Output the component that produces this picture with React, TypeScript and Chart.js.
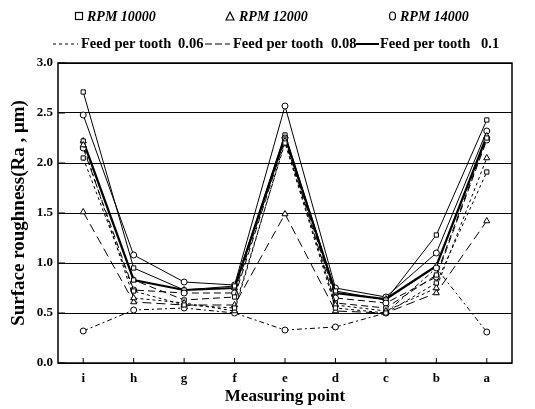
import React, { useEffect, useRef } from "react";
import { Chart, registerables } from "chart.js";

Chart.register(...registerables);

const categories = ["i", "h", "g", "f", "e", "d", "c", "b", "a"];
const yTicks = [0, 0.5, 1.0, 1.5, 2.0, 2.5, 3.0];

// Feed per tooth 0.1 (solid)
const rpm10000_f010 = [2.71, 0.95, 0.73, 0.77, 2.28, 0.72, 0.63, 1.28, 2.43];
const rpm12000_f010 = [2.22, 0.83, 0.73, 0.75, 2.27, 0.7, 0.64, 0.97, 2.27];
const rpm14000_f010 = [2.48, 1.08, 0.81, 0.78, 2.57, 0.75, 0.66, 1.1, 2.32];
// Feed per tooth 0.08 (dashed)
const rpm10000_f008 = [2.22, 0.83, 0.63, 0.66, 2.24, 0.6, 0.55, 0.88, 2.25];
const rpm12000_f008 = [1.51, 0.61, 0.58, 0.58, 1.49, 0.52, 0.5, 0.7, 1.42];
const rpm14000_f008 = [2.15, 0.73, 0.7, 0.7, 2.25, 0.65, 0.6, 0.86, 2.23];
// Feed per tooth 0.06 (fine dashed)
const rpm10000_f006 = [2.05, 0.72, 0.58, 0.55, 2.2, 0.55, 0.5, 0.8, 1.91];
const rpm12000_f006 = [2.18, 0.65, 0.6, 0.52, 2.22, 0.58, 0.52, 0.75, 2.05];
const rpm14000_f006 = [0.32, 0.53, 0.55, 0.5, 0.33, 0.36, 0.5, 0.95, 0.31];

const legendRpm = ["RPM 10000", "RPM 12000", "RPM 14000"];
const legendFeed = ["0.06", "0.08", "0.1"];
const feedLabel = "Feed per tooth";

const SERIF = "'Liberation Serif', 'DejaVu Serif', serif";

function ds(label: string, data: number[], style: string, dash: number[], width: number) {
  return {
    label,
    data,
    borderColor: "#000",
    borderWidth: width,
    borderDash: dash,
    pointStyle: style,
    pointRadius: style === "triangle" ? 3.5 : 3,
    pointBorderWidth: 1,
    pointBorderColor: "#000",
    pointBackgroundColor: "#fff",
    fill: false,
    tension: 0,
  };
}

const framePlugin = {
  id: "framePlugin",
  afterDraw(chart: any) {
    const ctx = chart.ctx;
    const { left, right, top, bottom } = chart.chartArea;
    ctx.save();
    ctx.strokeStyle = "#000";
    ctx.lineWidth = 1.5;
    ctx.setLineDash([]);
    ctx.strokeRect(left, top, right - left, bottom - top);
    // inward ticks
    ctx.lineWidth = 1;
    const ys = chart.scales.y;
    yTicks.forEach((v) => {
      const y = ys.getPixelForValue(v);
      ctx.beginPath();
      ctx.moveTo(left, y);
      ctx.lineTo(left + 7, y);
      ctx.stroke();
    });
    const xs = chart.scales.x;
    categories.forEach((_, i) => {
      const x = xs.getPixelForValue(i);
      ctx.beginPath();
      ctx.moveTo(x, bottom);
      ctx.lineTo(x, bottom - 5);
      ctx.stroke();
    });

    // legend row 1
    ctx.fillStyle = "#000";
    ctx.textBaseline = "middle";
    ctx.textAlign = "left";
    const r1 = 16;
    ctx.lineWidth = 1.2;
    ctx.strokeRect(75.5, r1 - 3.5, 7, 7);
    ctx.beginPath();
    ctx.moveTo(230, r1 - 4);
    ctx.lineTo(234, r1 + 4);
    ctx.lineTo(226, r1 + 4);
    ctx.closePath();
    ctx.stroke();
    ctx.beginPath();
    ctx.ellipse(392.5, r1, 3, 4, 0, 0, Math.PI * 2);
    ctx.stroke();
    ctx.font = `italic bold 14px ${SERIF}`;
    ctx.fillText(legendRpm[0], 87, r1 + 1);
    ctx.fillText(legendRpm[1], 239, r1 + 1);
    ctx.fillText(legendRpm[2], 400, r1 + 1);

    // legend row 2
    const r2 = 44;
    const samples = [
      { x0: 53, x1: 78, dash: [3, 3], w: 1, tx: 81, vx: 178 },
      { x0: 205, x1: 230, dash: [7, 3], w: 1.2, tx: 233, vx: 331 },
      { x0: 356, x1: 379, dash: [], w: 2, tx: 380, vx: 481 },
    ];
    ctx.font = `bold 14.5px ${SERIF}`;
    samples.forEach((s, i) => {
      ctx.lineWidth = s.w;
      ctx.setLineDash(s.dash);
      ctx.beginPath();
      ctx.moveTo(s.x0, r2);
      ctx.lineTo(s.x1, r2);
      ctx.stroke();
      ctx.setLineDash([]);
      ctx.fillText(feedLabel, s.tx, r2);
      ctx.fillText(legendFeed[i], s.vx, r2);
    });
    ctx.restore();
  },
};

export default function App() {
  const ref = useRef<HTMLCanvasElement | null>(null);
  useEffect(() => {
    if (!ref.current) return;
    const fine = [3, 3];
    const mid = [7, 4];
    const chart = new Chart(ref.current, {
      type: "line",
      data: {
        labels: categories,
        datasets: [
          ds("RPM 10000 / 0.06", rpm10000_f006, "rect", fine, 1),
          ds("RPM 12000 / 0.06", rpm12000_f006, "triangle", fine, 1),
          ds("RPM 14000 / 0.06", rpm14000_f006, "circle", [5, 3, 2, 3], 1),
          ds("RPM 10000 / 0.08", rpm10000_f008, "rect", mid, 1),
          ds("RPM 12000 / 0.08", rpm12000_f008, "triangle", [9, 5], 1),
          ds("RPM 14000 / 0.08", rpm14000_f008, "circle", mid, 1),
          ds("RPM 10000 / 0.1", rpm10000_f010, "rect", [], 1),
          ds("RPM 12000 / 0.1", rpm12000_f010, "triangle", [], 2.2),
          ds("RPM 14000 / 0.1", rpm14000_f010, "circle", [], 1),
        ],
      },
      options: {
        responsive: false,
        animation: false,
        devicePixelRatio: 1,
        layout: { padding: { top: 63, right: 23, left: 0, bottom: 0 } },
        plugins: { legend: { display: false }, tooltip: { enabled: false } },
        scales: {
          x: {
            offset: true,
            grid: { display: false, drawTicks: false },
            border: { display: false },
            ticks: {
              color: "#000",
              font: { family: SERIF, size: 13, weight: "bold" },
              padding: 8,
            },
            title: {
              display: true,
              text: "Measuring point",
              color: "#000",
              font: { family: SERIF, size: 17, weight: "bold" },
              padding: { top: 0, bottom: 2 },
            },
            afterFit: (s: any) => {
              s.height = 46;
            },
          },
          y: {
            min: 0,
            max: 3,
            grid: { color: "#000", lineWidth: 1, drawTicks: false },
            border: { display: false },
            ticks: {
              stepSize: 0.5,
              color: "#000",
              font: { family: SERIF, size: 13, weight: "bold" },
              padding: 5,
              callback: (v: any) => Number(v).toFixed(1),
            },
            title: {
              display: true,
              text: "Surface roughness(Ra , μm)",
              color: "#000",
              font: { family: SERIF, size: 19, weight: "bold" },
              padding: { top: 8, bottom: 0 },
            },
            afterFit: (s: any) => {
              s.width = 58;
            },
          },
        },
      },
      plugins: [framePlugin],
    });
    return () => chart.destroy();
  }, []);
  return (
    <div style={{ position: "absolute", left: 0, top: 0, width: 535, height: 409, background: "#fff" }}>
      <canvas ref={ref} width={535} height={409} />
    </div>
  );
}
